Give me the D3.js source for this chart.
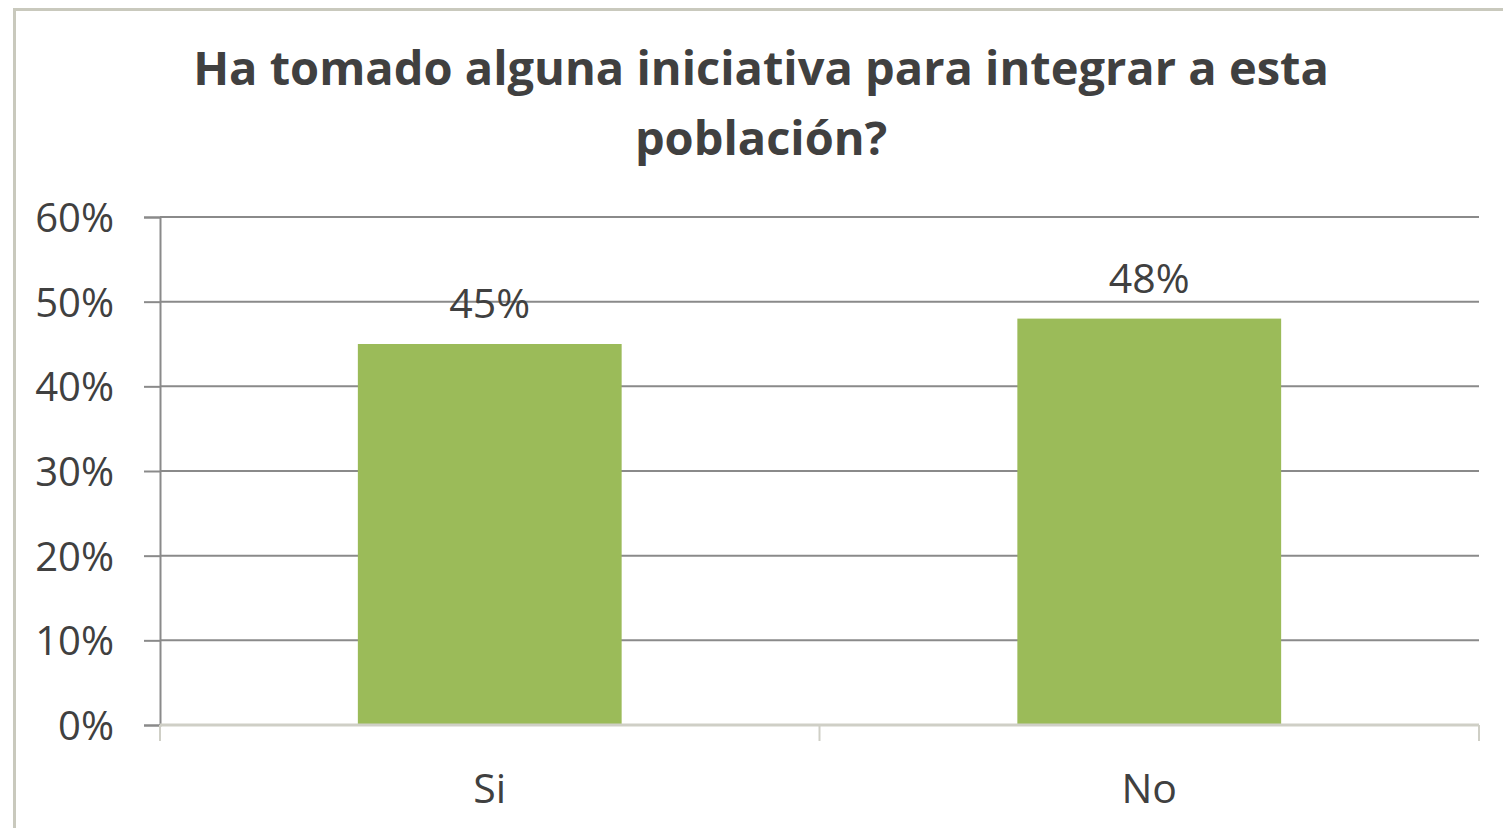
<!DOCTYPE html>
<html><head><meta charset="utf-8">
<script src="https://cdn.jsdelivr.net/npm/d3@7"></script>
<style>body{margin:0;background:#fff}svg{display:block}</style>
</head><body>
<script>
const categories = ["Si", "No"];
const values = [0.45, 0.48];
const valueLabels = ["45%", "48%"];
const yTicks = [0, 0.1, 0.2, 0.3, 0.4, 0.5, 0.6];
const titleLines = ["Ha tomado alguna iniciativa para integrar a esta", "población?"];

const W = 1503, H = 828;
const svg = d3.select("body").append("svg").attr("width", W).attr("height", H);
const font = "'Open Sans', 'Liberation Sans', sans-serif";

// outer border
svg.append("rect").attr("x", 14.5).attr("y", 9.5).attr("width", 1500).attr("height", 830)
  .attr("fill", "#fff").attr("stroke", "#c9c9bd").attr("stroke-width", 3);

const m = {left: 160, right: 1479, top: 217, bottom: 725};
const x = d3.scaleBand().domain(categories).range([m.left, m.right]).paddingInner(0.6).paddingOuter(0.3);
const y = d3.scaleLinear().domain([0, 0.6]).range([m.bottom, m.top]);

// gridlines
svg.append("g").selectAll("line").data(yTicks.filter(d => d > 0)).join("line")
  .attr("x1", m.left).attr("x2", m.right)
  .attr("y1", d => y(d)).attr("y2", d => y(d))
  .attr("stroke", "#8a8a8a").attr("stroke-width", 2);

// y axis
const yAxis = svg.append("g").attr("transform", `translate(${m.left},0)`)
  .call(d3.axisLeft(y).tickValues(yTicks).tickFormat(d3.format(".0%")).tickSize(16).tickPadding(30));
yAxis.select(".domain").attr("stroke", "#8a8a8a").attr("stroke-width", 2);
yAxis.selectAll(".tick line").attr("stroke", "#8a8a8a").attr("stroke-width", 2);
yAxis.selectAll("text").attr("font-family", font).attr("font-size", 40).attr("fill", "#404040").attr("dy", "0.36em");

// bars
svg.append("g").selectAll("rect").data(categories).join("rect")
  .attr("x", d => x(d)).attr("width", x.bandwidth())
  .attr("y", (d, i) => y(values[i])).attr("height", (d, i) => y(0) - y(values[i]))
  .attr("fill", "#9bbb59");

// x axis
const xAxisLine = svg.append("g");
xAxisLine.append("line").attr("x1", m.left).attr("x2", m.right).attr("y1", m.bottom).attr("y2", m.bottom)
  .attr("stroke", "#cfcfc6").attr("stroke-width", 3);
const bounds = [m.left, (m.left + m.right) / 2, m.right];
xAxisLine.selectAll("line.t").data(bounds).join("line").attr("class", "t")
  .attr("x1", d => d).attr("x2", d => d).attr("y1", m.bottom).attr("y2", m.bottom + 16)
  .attr("stroke", "#cfcfc6").attr("stroke-width", 2);
svg.append("g").selectAll("text").data(categories).join("text")
  .attr("x", d => x(d) + x.bandwidth() / 2).attr("y", 803)
  .attr("text-anchor", "middle").attr("font-family", font).attr("font-size", 41).attr("fill", "#404040")
  .text(d => d);

// value labels
svg.append("g").selectAll("text").data(categories).join("text")
  .attr("x", d => x(d) + x.bandwidth() / 2).attr("y", (d, i) => y(values[i]) - 26)
  .attr("text-anchor", "middle").attr("font-family", font).attr("font-size", 41).attr("fill", "#404040")
  .text((d, i) => valueLabels[i]);

// title
svg.append("g").selectAll("text").data(titleLines).join("text")
  .attr("x", 761).attr("y", (d, i) => 85 + i * 70)
  .attr("text-anchor", "middle").attr("font-family", font).attr("font-weight", "bold")
  .attr("font-size", 47).attr("fill", "#404040")
  .text(d => d);
</script>
</body></html>
